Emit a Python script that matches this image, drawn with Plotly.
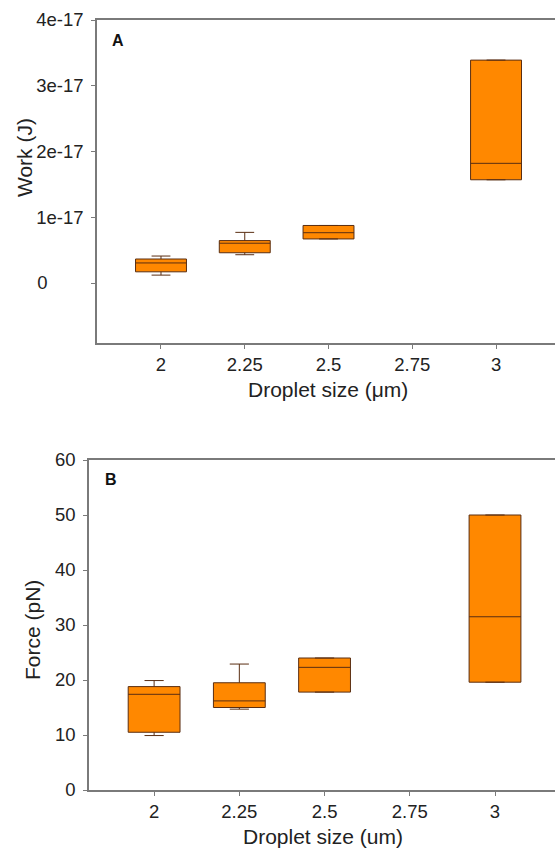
import plotly.graph_objects as go

# ---- data ----
sizes = [2.0, 2.25, 2.5, 3.0]
x_tickvals = [2, 2.25, 2.5, 2.75, 3]
x_ticktext = ["2", "2.25", "2.5", "2.75", "3"]

work_q1 = [1.7e-18, 4.6e-18, 6.7e-18, 1.57e-17]
work_med = [3.05e-18, 6.05e-18, 7.65e-18, 1.82e-17]
work_q3 = [3.65e-18, 6.45e-18, 8.75e-18, 3.39e-17]
work_lo = [1.2e-18, 4.3e-18, 6.7e-18, 1.57e-17]
work_hi = [4.1e-18, 7.7e-18, 8.75e-18, 3.39e-17]
work_tickvals = [0, 1e-17, 2e-17, 3e-17, 4e-17]
work_ticktext = ["0" + "\u00a0" * 7, "1e-17", "2e-17", "3e-17", "4e-17"]

force_q1 = [10.5, 15.0, 17.8, 19.6]
force_med = [17.4, 16.2, 22.3, 31.5]
force_q3 = [18.8, 19.5, 24.0, 50.0]
force_lo = [9.9, 14.7, 17.8, 19.6]
force_hi = [19.9, 22.9, 24.0, 50.0]
force_tickvals = [0, 10, 20, 30, 40, 50, 60]

W, H = 555, 849
FONT = "Liberation Sans, Arial, sans-serif"
FILL = "#FF8800"
EDGE = "#5a2e12"
AXC = "#7a7a7a"

fig = go.Figure()
fig.add_trace(go.Box(
    x=sizes, q1=work_q1, median=work_med, q3=work_q3,
    lowerfence=work_lo, upperfence=work_hi,
    boxpoints=False, width=0.152, whiskerwidth=0.37,
    fillcolor=FILL, line=dict(color=EDGE, width=1),
    xaxis="x", yaxis="y", showlegend=False))
fig.add_trace(go.Box(
    x=sizes, q1=force_q1, median=force_med, q3=force_q3,
    lowerfence=force_lo, upperfence=force_hi,
    boxpoints=False, width=0.152, whiskerwidth=0.37,
    fillcolor=FILL, line=dict(color=EDGE, width=1),
    xaxis="x2", yaxis="y2", showlegend=False))

def px_x(p):
    return p / W

def px_y(p):
    return 1 - p / H

axis_common = dict(showline=True, linecolor=AXC, linewidth=1.5, ticks="outside",
                   ticklen=4, tickcolor=AXC, tickwidth=1.2, showgrid=False, zeroline=False,
                   automargin=False,
                   tickfont=dict(family=FONT, size=18.5, color="#222"))

fig.update_layout(
    width=W, height=H, margin=dict(l=0, r=0, t=0, b=0, pad=0, autoexpand=False),
    paper_bgcolor="white", plot_bgcolor="white",
    xaxis=dict(domain=[px_x(97), 1], range=[1.809, 3.176], anchor="y",
               tickvals=x_tickvals, ticktext=x_ticktext, mirror=True, **axis_common),
    yaxis=dict(domain=[px_y(343), px_y(20)], range=[-0.9125e-17, 4e-17], anchor="x",
               tickvals=work_tickvals, ticktext=work_ticktext, ticklabelstandoff=4,
               **axis_common),
    xaxis2=dict(domain=[px_x(89), 1], range=[1.809, 3.176], anchor="y2",
                tickvals=x_tickvals, ticktext=x_ticktext, mirror=True, **axis_common),
    yaxis2=dict(domain=[px_y(790), px_y(460)], range=[0, 60], anchor="x2",
                tickvals=force_tickvals, ticklabelstandoff=4, **axis_common),
)

ann_font = dict(family=FONT, size=21, color="#222")
fig.add_annotation(text="Droplet size (μm)", x=px_x(328), y=px_y(390), xref="paper", yref="paper",
                   showarrow=False, font=ann_font, xanchor="center", yanchor="middle")
fig.add_annotation(text="Droplet size (um)", x=px_x(323), y=px_y(836), xref="paper", yref="paper",
                   showarrow=False, font=ann_font, xanchor="center", yanchor="middle")
fig.add_annotation(text="Work (J)", x=px_x(24), y=px_y(158), xref="paper", yref="paper",
                   showarrow=False, font=ann_font, textangle=-90, xanchor="center", yanchor="middle")
fig.add_annotation(text="Force (pN)", x=px_x(32), y=px_y(630), xref="paper", yref="paper",
                   showarrow=False, font=ann_font, textangle=-90, xanchor="center", yanchor="middle")
fig.add_annotation(text="<b>A</b>", x=px_x(118), y=px_y(40), xref="paper", yref="paper",
                   showarrow=False, font=dict(family=FONT, size=16, color="#111"),
                   xanchor="center", yanchor="middle")
fig.add_annotation(text="<b>B</b>", x=px_x(111), y=px_y(479), xref="paper", yref="paper",
                   showarrow=False, font=dict(family=FONT, size=16, color="#111"),
                   xanchor="center", yanchor="middle")

fig.write_html("out.html")
